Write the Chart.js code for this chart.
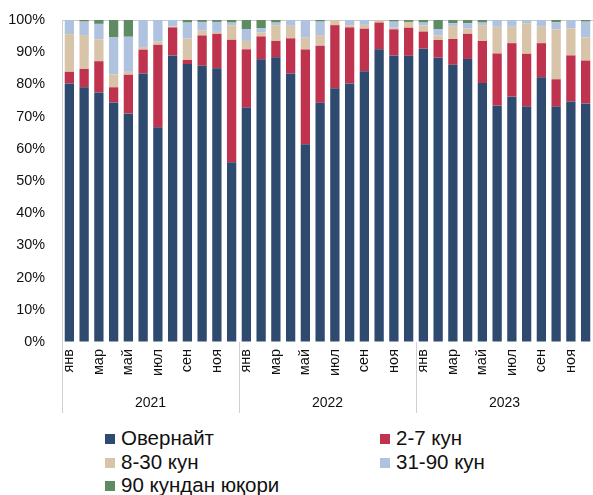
<!DOCTYPE html>
<html>
<head>
<meta charset="utf-8">
<script src="https://cdn.jsdelivr.net/npm/chart.js@4.4.1/dist/chart.umd.min.js"></script>
<style>
  html, body { margin: 0; padding: 0; background: #fff; }
  #wrap { position: relative; width: 593px; height: 495px; font-family: "Liberation Sans", Arial, sans-serif; }
  #c { position: absolute; left: 0; top: 0; }
  .lg { position: absolute; font-size: 20.5px; color: #111; line-height: 22px; white-space: nowrap; }
  .lg span.sw { display: inline-block; width: 10px; height: 10px; margin-right: 6px; vertical-align: 1px; }
</style>
</head>
<body>
<div id="wrap">
  <canvas id="c" width="593" height="420"></canvas>
  <div id="legend"></div>
</div>
<script>
// ---- data ----
const months = ['янв','фев','мар','апр','май','июн','июл','авг','сен','окт','ноя','дек',
                'янв','фев','мар','апр','май','июн','июл','авг','сен','окт','ноя','дек',
                'янв','фев','мар','апр','май','июн','июл','авг','сен','окт','ноя','дек'];
const years = ['2021','2022','2023'];
const seriesNames = ['Овернайт','2-7 кун','8-30 кун','31-90 кун','90 кундан юқори'];
const overnight = [80.3,79.1,77.5,74.4,71.0,83.4,66.7,89.0,86.3,85.8,85.0,55.8,
                   72.8,87.8,88.4,83.4,61.4,74.3,78.8,80.3,84.1,90.9,89.0,88.9,
                   91.1,88.3,86.1,87.9,80.4,73.4,76.2,73.1,82.2,73.1,74.7,74.1];
const days2_7 = [3.6,5.7,9.7,4.7,12.0,7.4,25.6,8.7,1.3,9.4,10.7,38.1,
                 18.1,7.1,5.1,10.9,29.4,17.7,19.6,17.4,13.2,8.3,8.1,8.7,
                 5.3,5.5,8.0,7.8,13.1,16.2,16.6,16.4,10.6,8.5,14.3,13.3];
const days8_30 = [11.7,10.5,6.8,4.0,0.9,0.8,1.0,0.3,6.7,1.5,0.6,4.5,
                  2.6,1.2,4.9,3.9,3.7,3.3,1.6,0.7,1.2,0.8,0.5,1.8,
                  1.9,1.4,4.0,1.7,4.9,8.3,5.1,9.5,5.1,15.5,8.4,7.2];
const days31_90 = [4.4,4.2,4.8,11.5,10.9,8.4,6.7,2.0,4.9,2.7,3.1,0.8,
                   3.7,1.3,0.8,1.8,5.5,4.2,0,1.6,1.5,0,1.9,0,
                   0.9,2.0,0.9,1.6,0.8,2.1,2.1,1.0,2.1,2.2,2.6,4.9];
const days90plus = [0,0.5,1.2,5.4,5.2,0,0,0,0.8,0.6,0.6,0.8,
                    2.8,2.6,0.8,0,0,0.5,0,0,0,0,0.5,0.6,
                    0.8,2.8,1.0,1.0,0.8,0,0,0,0,0.7,0,0.5];
const yTicks = [0,10,20,30,40,50,60,70,80,90,100];

// ---- style ----
const colors = ['#2E4A6E','#C0334F','#D8C4A9','#AFC3E1','#5F8B63'];
const FONT = '"Liberation Sans", Arial, sans-serif';
const seriesData = [overnight, days2_7, days8_30, days31_90, days90plus];

const yearPlugin = {
  id: 'yearGroups',
  afterDraw(chart) {
    const ctx = chart.ctx;
    const xs = chart.scales.x;
    const area = chart.chartArea;
    const half = (xs.getPixelForValue(1) - xs.getPixelForValue(0)) / 2;
    ctx.save();
    ctx.strokeStyle = '#D0D0D0';
    ctx.lineWidth = 1;
    years.forEach((yr, g) => {
      const x0 = Math.round(xs.getPixelForValue(g * 12) - half) + 0.5;
      ctx.beginPath();
      ctx.moveTo(x0, g === 0 ? area.top : area.bottom);
      ctx.lineTo(x0, area.bottom + 71);
      ctx.stroke();
      const xc = (xs.getPixelForValue(g * 12) + xs.getPixelForValue(g * 12 + 11)) / 2;
      ctx.fillStyle = '#111';
      ctx.font = '14px ' + FONT;
      ctx.textAlign = 'center';
      ctx.textBaseline = 'middle';
      ctx.fillText(yr, xc, area.bottom + 61);
    });
    ctx.restore();
  }
};

new Chart(document.getElementById('c'), {
  type: 'bar',
  data: {
    labels: months,
    datasets: seriesNames.map((n, i) => ({
      label: n,
      data: seriesData[i],
      backgroundColor: colors[i],
      borderWidth: 0,
      barPercentage: 0.63,
      categoryPercentage: 1.0
    }))
  },
  options: {
    responsive: false,
    animation: false,
    layout: { padding: { top: 20, right: 0, bottom: 0, left: 0 } },
    plugins: { legend: { display: false }, tooltip: { enabled: false } },
    scales: {
      x: {
        stacked: true,
        grid: { display: false, drawTicks: false },
        border: { display: false },
        ticks: {
          autoSkip: false, maxRotation: 90, minRotation: 90, padding: 7,
          color: '#111', font: { family: FONT, size: 14.5 },
          callback: function(v, i) { return i % 2 === 0 ? months[i] : ''; }
        },
        afterFit(scale) { scale.height = 78; scale.paddingLeft = 0; scale.paddingRight = 0; }
      },
      y: {
        stacked: true, min: 0, max: 100,
        afterBuildTicks(scale) { scale.ticks = yTicks.map(v => ({ value: v })); },
        grid: {
          drawTicks: false,
          color: (c) => (c.tick && c.tick.value === 100) ? '#C8C8C8' : 'rgba(0,0,0,0)',
          lineWidth: 1
        },
        border: { display: true, color: '#D0D0D0' },
        ticks: {
          padding: 17, color: '#111', font: { family: FONT, size: 14.4 },
          callback: (v) => v + '%'
        },
        afterFit(scale) { scale.width = 62; scale.paddingTop = 0; scale.paddingBottom = 0; }
      }
    }
  },
  plugins: [yearPlugin]
});

// ---- HTML legend ----
const legPos = [[105, 427], [380, 427], [105, 451], [380, 451], [105, 474]];
const lg = document.getElementById('legend');
seriesNames.forEach((n, i) => {
  const d = document.createElement('div');
  d.className = 'lg';
  d.style.left = legPos[i][0] + 'px';
  d.style.top = legPos[i][1] + 'px';
  d.innerHTML = '<span class="sw" style="background:' + colors[i] + '"></span>' + n;
  lg.appendChild(d);
});
</script>
</body>
</html>
